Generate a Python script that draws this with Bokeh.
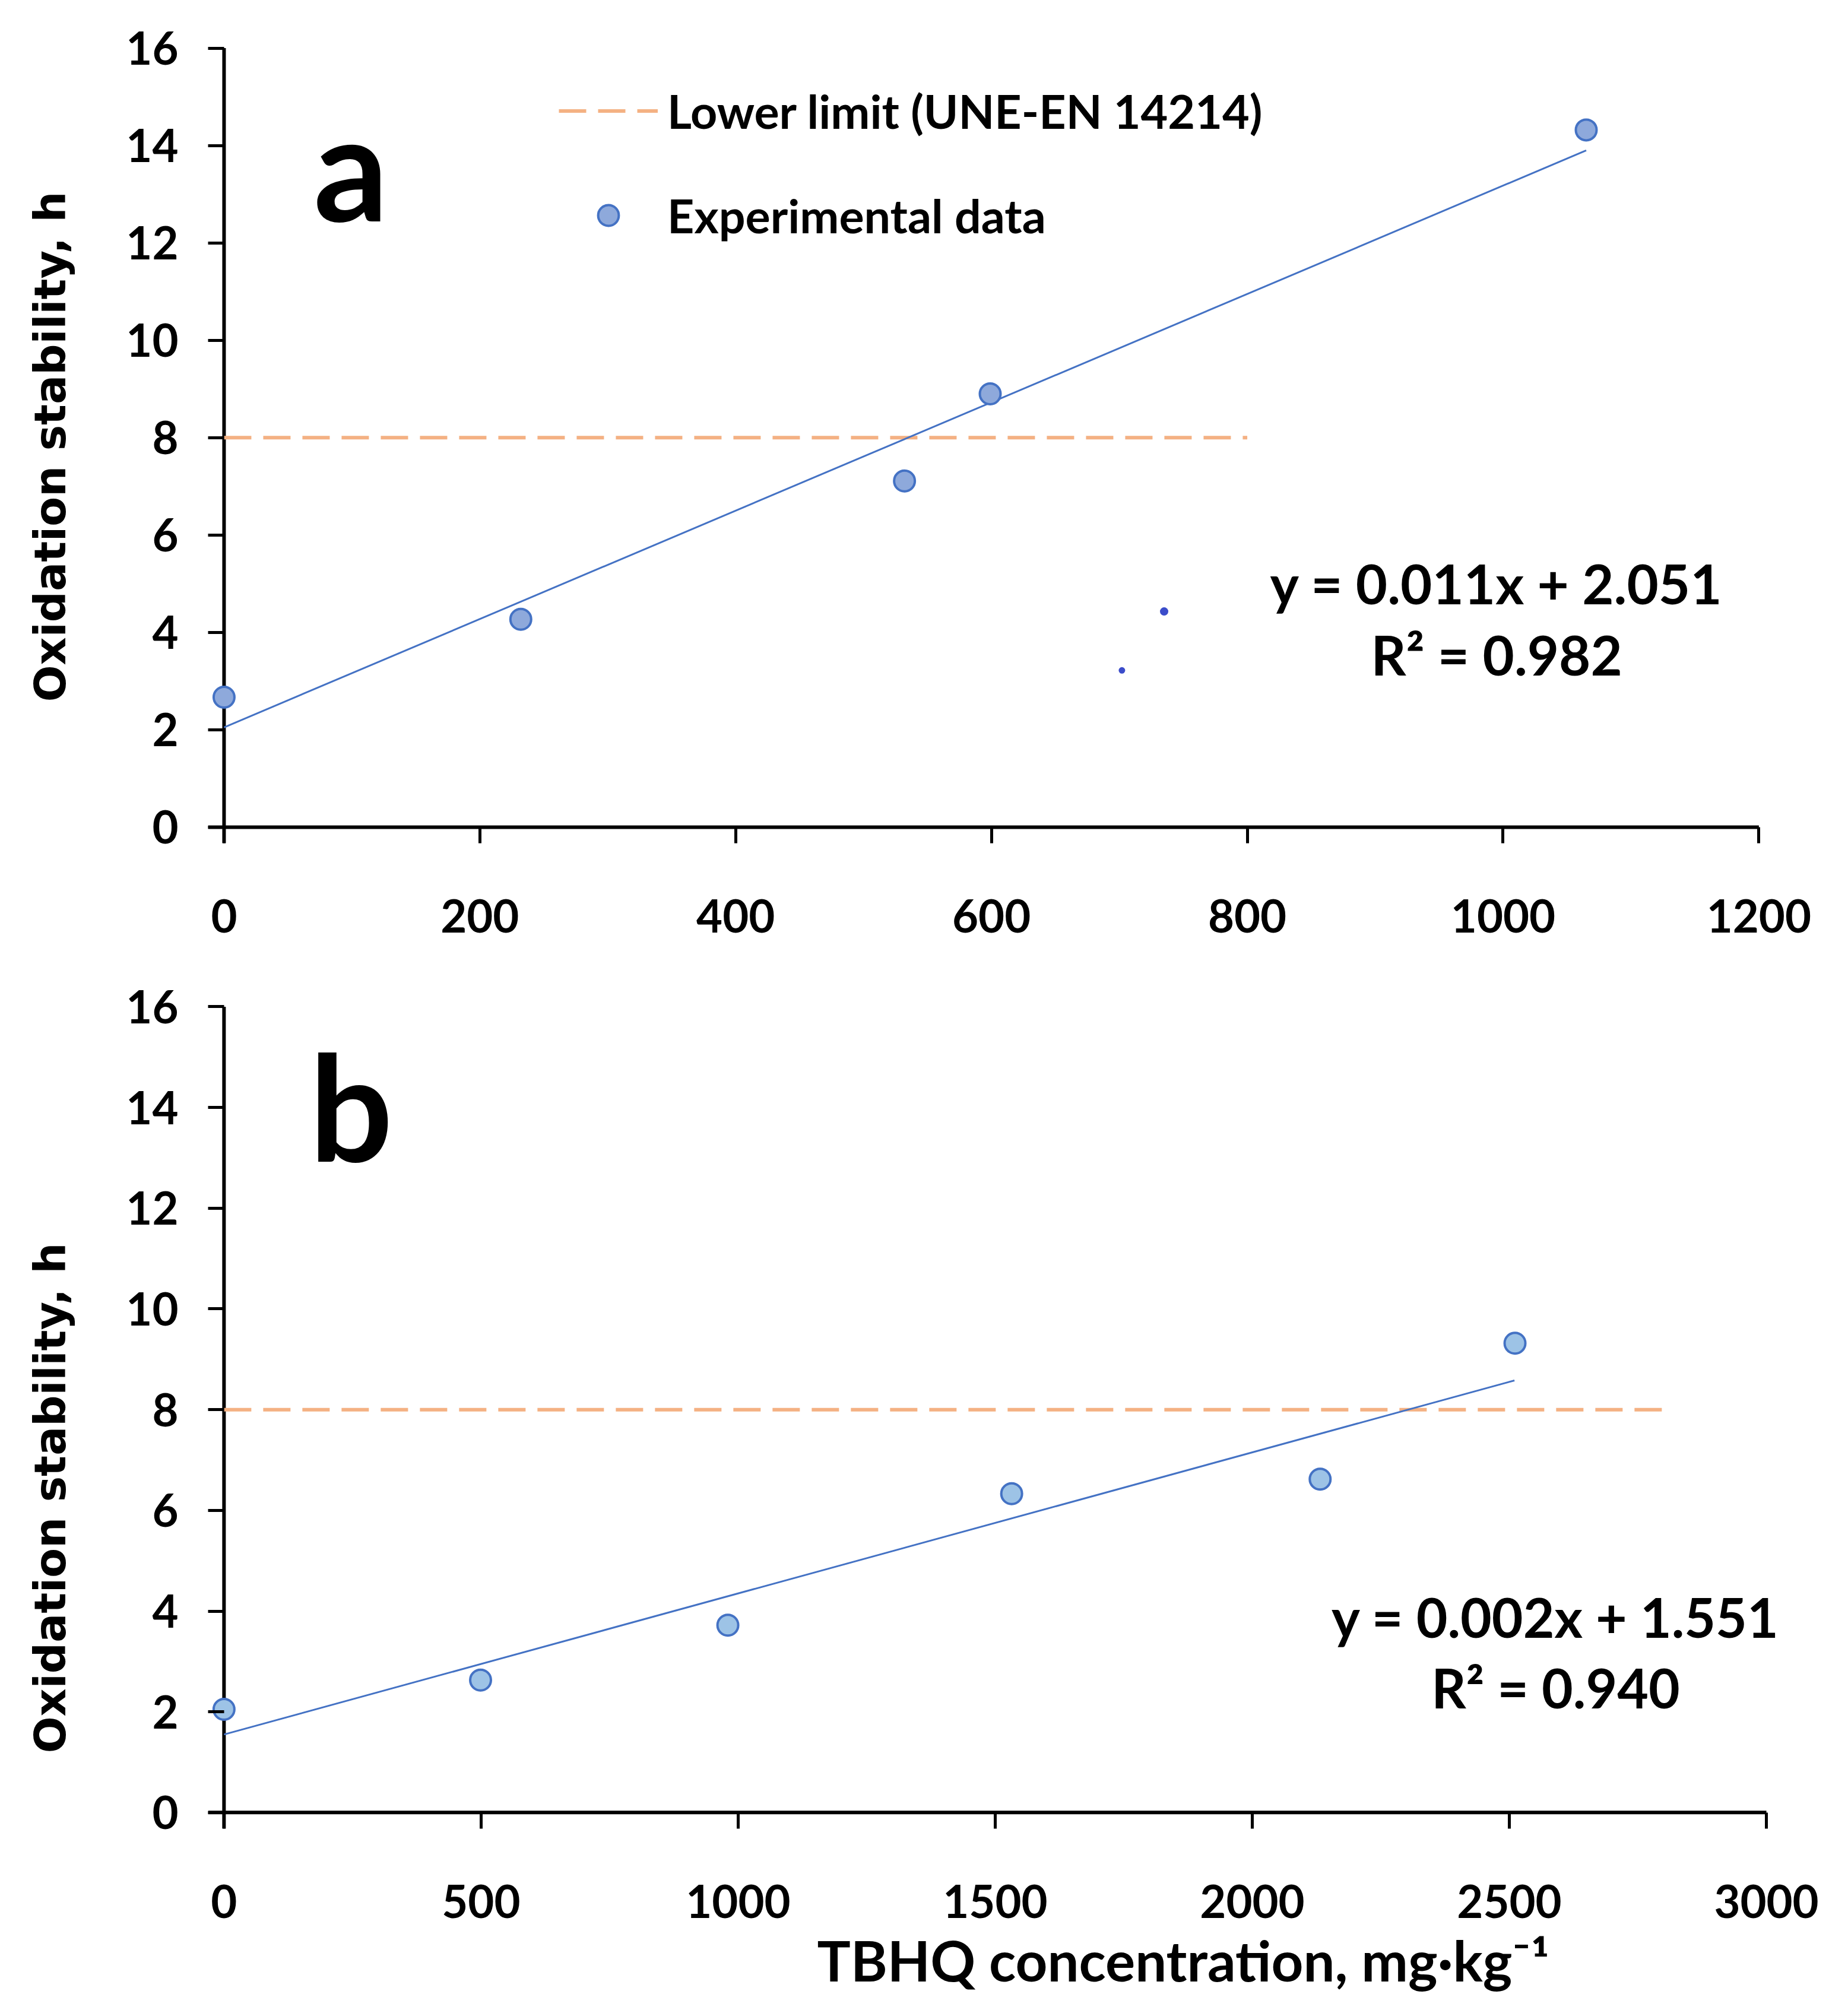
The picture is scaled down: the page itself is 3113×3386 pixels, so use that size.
from bokeh.plotting import figure
from bokeh.layouts import column
from bokeh.models import Label, Legend, LegendItem, FixedTicker, Range1d, Title
from bokeh.embed import file_html
from bokeh.resources import INLINE

# ---- panel a : TBHQ, first series ----
conc_a = [0, 232, 532, 599, 1065]
ox_a = [2.67, 4.27, 7.11, 8.90, 14.32]
trend_a_x = [0, 1065]
trend_a_y = [2.05, 13.90]
limit_a_x = [0, 800]
limit_y = [8, 8]
# two stray blue specks visible in the original figure
stray_x = [735, 702]
stray_y = [4.43, 3.22]
stray_size = [14, 11]

# ---- panel b : TBHQ, second series ----
conc_b = [0, 499, 980, 1532, 2132, 2511]
ox_b = [2.05, 2.63, 3.72, 6.33, 6.62, 9.32]
trend_b_x = [0, 2510]
trend_b_y = [1.55, 8.58]
limit_b_x = [0, 2800]

y_ticks = [0, 2, 4, 6, 8, 10, 12, 14, 16]
x_ticks_a = [0, 200, 400, 600, 800, 1000, 1200]
x_ticks_b = [0, 500, 1000, 1500, 2000, 2500, 3000]

eq_a = ["y = 0.011x + 2.051", "R\u00b2 = 0.982"]
eq_b = ["y = 0.002x + 1.551", "R\u00b2 = 0.940"]
y_title = "Oxidation stability, h"
x_title = "TBHQ concentration, mg\u00b7kg\u207b\u00b9"

FONT = "Lato"
BLUE = "#4472C4"
ORANGE = "#F4B183"
SHIFT = 53   # figures are pulled left so the wide left border fits the page
WIDTH = 3097 + 2 * SHIFT


def style_axes(p, xticks, x0, y0, xmax):
    # the real axes sit on the frame edge; their ticks point inwards and
    # end on the drawn axis lines at x=0 / y=0, so they look like outward ticks
    p.xaxis.ticker = FixedTicker(ticks=xticks)
    p.yaxis.ticker = FixedTicker(ticks=y_ticks)
    for ax in (p.xaxis, p.yaxis):
        ax.axis_line_color = None
        ax.major_tick_line_width = 5
        ax.major_tick_line_color = "black"
        ax.major_tick_out = 0
        ax.major_tick_in = 27
        ax.minor_tick_line_color = None
        ax.major_label_text_font = FONT
        ax.major_label_text_font_style = "bold"
        ax.major_label_text_font_size = "76px"
        ax.major_label_text_color = "black"
    p.xaxis.major_label_standoff = 94
    p.yaxis.major_label_standoff = 50
    p.xgrid.grid_line_color = None
    p.ygrid.grid_line_color = None
    p.outline_line_color = None
    p.segment(x0=[x0], y0=[0], x1=[xmax], y1=[0], line_color="black", line_width=6)
    p.segment(x0=[0], y0=[y0], x1=[0], y1=[16], line_color="black", line_width=6)


def txt(p, x, y, s, size, **kw):
    lab = Label(x=x, y=y, text=s, text_font=FONT, text_font_style="bold",
                text_font_size=size, text_color="black", text_baseline="bottom", **kw)
    p.add_layout(lab)


def side_title(p, s, side, offset, standoff, size, font, valign):
    t = Title(text=s, align="left", offset=offset, standoff=standoff, vertical_align=valign,
              text_font=font, text_font_style="bold", text_font_size=size, text_color="black")
    p.add_layout(t, side)


# ------------------------------------------------------------------ a
pa = figure(width=WIDTH, height=1640, output_backend="svg", toolbar_location=None,
            x_range=Range1d(-12.5, 1230), y_range=Range1d(-0.33, 16.3),
            min_border_left=347 + SHIFT, min_border_right=60, min_border_top=56, min_border_bottom=220,
            margin=(0, 0, 0, -SHIFT),
            background_fill_color="white", border_fill_color="white")
style_axes(pa, x_ticks_a, -12.5, -0.33, 1200)

lim_a = pa.line(limit_a_x, limit_y, line_color=ORANGE, line_width=6, line_dash="46 20")
pa.line(trend_a_x, trend_a_y, line_color=BLUE, line_width=3)
pts_a = pa.scatter(conc_a, ox_a, size=35, fill_color="#8EA9DB", line_color=BLUE, line_width=4)
pa.scatter(stray_x, stray_y, size=stray_size, fill_color="#3B4CCA", line_color=None)

legend = Legend(items=[LegendItem(label="Lower limit (UNE-EN 14214)", renderers=[lim_a]),
                       LegendItem(label="Experimental data", renderers=[pts_a])],
                location=(591, 1010))
legend.glyph_width = 167
legend.glyph_height = 87
legend.label_height = 87
legend.spacing = 81
legend.padding = 0
legend.margin = 0
legend.label_standoff = 16
legend.border_line_color = None
legend.background_fill_alpha = 0
legend.label_text_font = FONT
legend.label_text_font_style = "bold"
legend.label_text_font_size = "79px"
legend.label_text_color = "black"
pa.add_layout(legend)

txt(pa, 995, 4.33, eq_a[0], "92px", text_align="center")
txt(pa, 995, 2.87, eq_a[1], "92px", text_align="center")
txt(pa, 70, 11.79, "a", "248px")
side_title(pa, y_title, "left", 238, 166, "73px", "DejaVu Sans", "bottom")

# ------------------------------------------------------------------ b
pb = figure(width=WIDTH, height=1730, output_backend="svg", toolbar_location=None,
            x_range=Range1d(-31, 3060), y_range=Range1d(-0.32, 16.3),
            min_border_left=350 + SHIFT, min_border_right=70, min_border_top=30, min_border_bottom=288,
            margin=(0, 0, 0, -SHIFT),
            background_fill_color="white", border_fill_color="white")
style_axes(pb, x_ticks_b, -31, -0.32, 3000)

pb.line(limit_b_x, limit_y, line_color=ORANGE, line_width=6, line_dash="46 20")
pb.line(trend_b_x, trend_b_y, line_color=BLUE, line_width=3)
pb.scatter(conc_b, ox_b, size=35, fill_color="#9DC3E6", line_color=BLUE, line_width=4)

txt(pb, 2590, 3.25, eq_b[0], "91px", text_align="center")
txt(pb, 2590, 1.84, eq_b[1], "91px", text_align="center")
txt(pb, 166, 12.30, "b", "248px")
side_title(pb, y_title, "left", 127, 166, "73px", "DejaVu Sans", "bottom")
side_title(pb, x_title, "below", 1026, 22, "94px", FONT, "top")

layout = column(pa, pb)
open("out.html", "w").write(file_html(layout, INLINE))
